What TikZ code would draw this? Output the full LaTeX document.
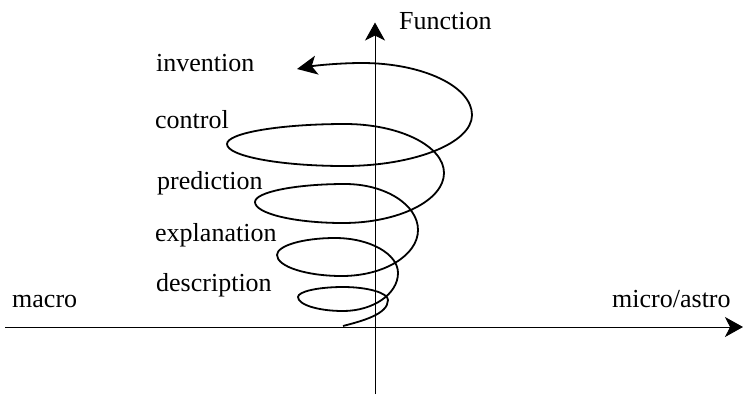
\documentclass[tikz,border=0pt]{standalone}
\usepackage{fontspec}
\setmainfont{Liberation Serif}
\usetikzlibrary{arrows.meta}
\begin{document}
\begin{tikzpicture}[x=1pt,y=-1pt,
  lbl/.style={anchor=base west,inner sep=0pt,font=\fontsize{26}{30}\selectfont},
  axis/.style={line width=1pt,-{Stealth[length=18pt,width=20pt,inset=5pt]}},
  helix/.style={line width=1.8pt,line join=round,
    -{Stealth[length=20pt,width=19pt,inset=5pt]}}]
\useasboundingbox (0,0) rectangle (743,394);

% axes
\coordinate (xl) at (5,327);
\coordinate (xr) at (743,327);
\coordinate (yb) at (375,394);
\coordinate (yt) at (375,22.5);
\draw[axis] (xl) -- (xr);
\draw[axis] (yb) -- (yt);

% axis labels
\node[lbl] (fn)    at (399,29.5)  {Function};
\node[lbl] (macro) at (12,307.5)  {macro};
\node[lbl] (micro) at (612,307.5) {micro/astro};

% stages of the spiral
\node[lbl] (inv)  at (156,71.5)  {invention};
\node[lbl] (ctl)  at (155,128.5) {control};
\node[lbl] (pred) at (157,189.5) {prediction};
\node[lbl] (expl) at (155,241.5) {explanation};
\node[lbl] (desc) at (156,291.5) {description};

% widening spiral rising from the origin, built from quarter ellipses
\coordinate (s0)  at (343,326);
\coordinate (s1)  at (388,300);
\coordinate (s2)  at (343,287);
\coordinate (s3)  at (298,297);
\coordinate (s4)  at (343,311);
\coordinate (s5)  at (398,273);
\coordinate (s6)  at (335,238);
\coordinate (s7)  at (277,255);
\coordinate (s8)  at (342,276);
\coordinate (s9)  at (418,230);
\coordinate (s10) at (345,184);
\coordinate (s11) at (255,202);
\coordinate (s12) at (343,223);
\coordinate (s13) at (444,173);
\coordinate (s14) at (345,124);
\coordinate (s15) at (227,144);
\coordinate (s16) at (344,166);
\coordinate (s17) at (472,115);
\coordinate (s18) at (362,63);
\coordinate (s19) at (297,69);
\draw[helix] (s0)
  .. controls (362,321)    and (388,314.3)  .. (s1)
  .. controls (388,292.85) and (367.75,287) .. (s2)
  .. controls (318.25,287) and (298,291.5)  .. (s3)
  .. controls (298,304.7)  and (318.25,311) .. (s4)
  .. controls (373.25,311) and (398,293.9)  .. (s5)
  .. controls (398,253.75) and (369.65,238) .. (s6)
  .. controls (303.1,238)  and (277,245.65) .. (s7)
  .. controls (277,266.55) and (306.25,276) .. (s8)
  .. controls (383.8,276)  and (418,255.3)  .. (s9)
  .. controls (418,204.7)  and (385.15,184) .. (s10)
  .. controls (295.5,184)  and (255,192.1)  .. (s11)
  .. controls (255,213.55) and (294.6,223)  .. (s12)
  .. controls (398.55,223) and (444,200.5)  .. (s13)
  .. controls (444,146.05) and (399.45,124) .. (s14)
  .. controls (280.1,124)  and (227,133)    .. (s15)
  .. controls (227,156.1)  and (279.65,166) .. (s16)
  .. controls (414.4,166)  and (472,143.05) .. (s17)
  .. controls (472,86.4)   and (422.5,63)   .. (s18)
  .. controls (340,63)     and (315,65.5)   .. (s19);
\end{tikzpicture}
\end{document}
